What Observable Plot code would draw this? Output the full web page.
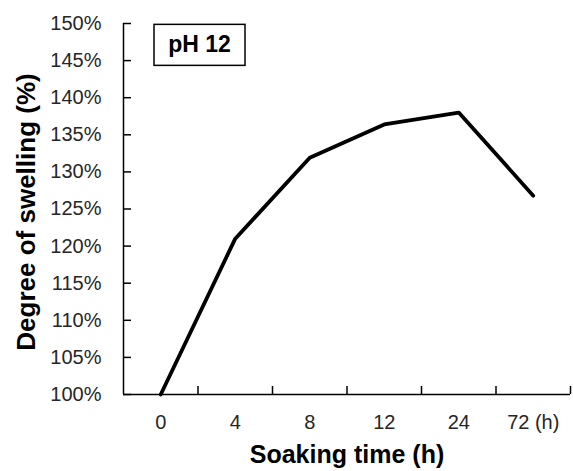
<!DOCTYPE html>
<html><head><meta charset="utf-8">
<script src="https://cdn.jsdelivr.net/npm/d3@7"></script>
<script src="https://cdn.jsdelivr.net/npm/@observablehq/plot@0.6"></script>
<style>body{margin:0;background:#fff;}</style>
</head><body><div id="chart"></div>
<script>
const times = ["0", "4", "8", "12", "24", "72"];
const tickLabels = ["0", "4", "8", "12", "24", "72 (h)"];
const swelling = [100, 121, 131.9, 136.4, 138, 126.8];
const yTicks = [100, 105, 110, 115, 120, 125, 130, 135, 140, 145, 150];
const panelLabel = "pH 12";
const xTitle = "Soaking time (h)";
const yTitle = "Degree of swelling (%)";

const data = times.map((t, i) => ({i, t, v: swelling[i]}));
const idx = times.map((_, i) => i);
const bounds = times.map((_, i) => i + 0.5);

const plot = Plot.plot({
  width: 573, height: 471,
  marginLeft: 123, marginRight: 3, marginTop: 23, marginBottom: 77,
  style: {fontFamily: "'Liberation Sans', Arial, sans-serif", background: "#fff", color: "#000"},
  x: {domain: [-0.5, times.length - 0.5]},
  y: {domain: [100, 150]},
  marks: [
    Plot.axisY({ticks: yTicks, tickSize: -8, tickPadding: 30, tickFormat: d => d + "%", fontSize: 20, label: null, strokeWidth: 1.5, fill: "#262626"}),
    Plot.axisX({ticks: idx, tickSize: 0, tickPadding: 20, tickFormat: i => tickLabels[i], fontSize: 20, label: null, fill: "#262626"}),
    Plot.axisX({ticks: bounds, tickSize: -8, fill: "none", label: null, strokeWidth: 1.5}),
    Plot.ruleX([-0.5], {stroke: "#000", strokeWidth: 1.5}),
    Plot.ruleY([100], {stroke: "#000", strokeWidth: 1.5}),
    Plot.line(data, {x: "i", y: "v", stroke: "#000", strokeWidth: 3.8, strokeLinejoin: "round"}),
    Plot.text([panelLabel], {frameAnchor: "top-left", dx: 76, dy: 21, textAnchor: "middle", lineAnchor: "middle", fontSize: 23, fontWeight: "bold", fill: "#000", className: "panel-label"}),
    Plot.text([xTitle], {frameAnchor: "bottom", dy: 60, textAnchor: "middle", lineAnchor: "middle", fontSize: 25, fontWeight: "bold", fill: "#000"}),
    Plot.text([yTitle], {frameAnchor: "left", dx: -97, dy: 3, rotate: -90, textAnchor: "middle", lineAnchor: "middle", fontSize: 26, fontWeight: "bold", fill: "#000"})
  ]
});
document.getElementById("chart").appendChild(plot);

// draw a box around the panel label
const g = plot.querySelector("g.panel-label") || plot.querySelector(".panel-label");
if (g) {
  const t = g.querySelector("text");
  const bb = t.getBBox();
  const cx = bb.x + bb.width / 2, cy = bb.y + bb.height / 2;
  const w = 91, h = 41;
  const rect = document.createElementNS("http://www.w3.org/2000/svg", "rect");
  rect.setAttribute("x", cx - w / 2);
  rect.setAttribute("y", cy - h / 2 + 1);
  rect.setAttribute("width", w);
  rect.setAttribute("height", h);
  rect.setAttribute("fill", "none");
  rect.setAttribute("stroke", "#000");
  rect.setAttribute("stroke-width", "1.5");
  const tr = t.getAttribute("transform");
  if (tr) rect.setAttribute("transform", tr);
  t.parentNode.insertBefore(rect, t);
}
</script>
</body></html>
